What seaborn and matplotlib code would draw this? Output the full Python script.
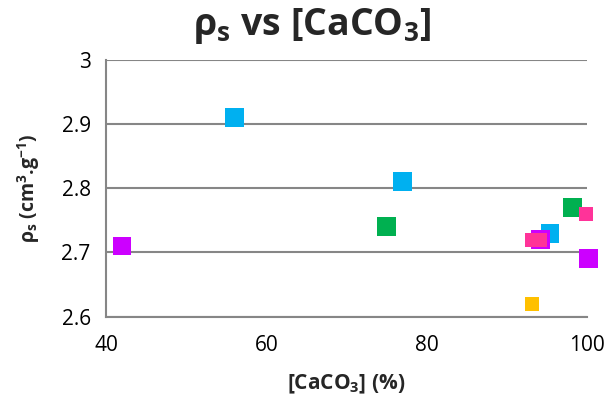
import pandas as pd
import matplotlib
matplotlib.use("Agg")
import matplotlib.pyplot as plt
import seaborn as sns

# Dados (série -> [CaCO3] %, rho_s)
blue_x = [56, 77, 95.4]
blue_y = [2.91, 2.81, 2.73]
green_x = [75, 98.2]
green_y = [2.74, 2.77]
purple_x = [42, 94.2, 100.2]
purple_y = [2.71, 2.72, 2.69]
pink_x = [93.1, 94.1, 99.9]
pink_y = [2.72, 2.72, 2.76]
orange_x = [93.1]
orange_y = [2.62]

series = ["blue", "green", "purple", "pink", "orange"]
xs = [blue_x, green_x, purple_x, pink_x, orange_x]
ys = [blue_y, green_y, purple_y, pink_y, orange_y]
cores = {"blue": "#00B0F0", "green": "#00B050", "purple": "#CC00FF",
         "pink": "#FF3399", "orange": "#FFC000"}
tamanhos = {"blue": 185, "green": 185, "purple": 185, "pink": 102, "orange": 102}

x_ticks = [40, 60, 80, 100]
y_ticks = [2.6, 2.7, 2.8, 2.9, 3.0]
y_labels = ["2.6", "2.7", "2.8", "2.9", "3"]

frames = []
for nome, x, y in zip(series, xs, ys):
    frames.append(pd.DataFrame({"x": x, "y": y, "serie": nome}))
df = pd.concat(frames, ignore_index=True)

sns.set_style("white")
plt.rcParams["font.family"] = ["Open Sans", "DejaVu Sans"]
plt.rcParams["mathtext.fontset"] = "custom"
plt.rcParams["mathtext.rm"] = "Open Sans"
plt.rcParams["mathtext.it"] = "Open Sans"
plt.rcParams["mathtext.bf"] = "Open Sans:bold"

fig = plt.figure(figsize=(6.11, 4.05), dpi=100)
ax = fig.add_axes([0.1735, 0.218, 0.787, 0.6346])

sns.scatterplot(data=df, x="x", y="y", hue="serie", size="serie",
                palette=cores, sizes=tamanhos, marker="s", linewidth=0,
                legend=False, ax=ax)
for c in ax.collections:
    c.set_clip_on(False)

ax.set_xlim(40, 100)
ax.set_ylim(2.6, 3.0)
ax.set_xticks(x_ticks)
ax.set_yticks(y_ticks)
ax.set_yticklabels(y_labels)
ax.tick_params(axis="both", labelsize=15, colors="#868686", labelcolor="black")
ax.tick_params(axis="y", direction="inout", length=10, width=1.5, pad=6)
ax.tick_params(axis="x", direction="out", length=7, width=1.5, pad=6)

ax.grid(axis="y", color="#868686", linewidth=1.5)
ax.set_axisbelow(True)
for lado in ["top", "right"]:
    ax.spines[lado].set_visible(False)
for lado in ["left", "bottom"]:
    ax.spines[lado].set_color("#868686")
    ax.spines[lado].set_linewidth(1.5)

fig.suptitle(r"$\mathbf{\rho_s}$ vs [CaCO$_\mathbf{3}$]", fontsize=27,
             fontweight="bold", x=0.51, y=0.985)
ax.set_xlabel(r"[CaCO$_\mathbf{3}$] (%)", fontsize=15, fontweight="bold",
              labelpad=12)
ax.set_ylabel(r"$\mathbf{\rho_s}$ (cm$^\mathbf{3}$.g$^\mathbf{-1}$)", fontsize=14,
              fontweight="bold", labelpad=14)

fig.savefig("out.png", dpi=100)
